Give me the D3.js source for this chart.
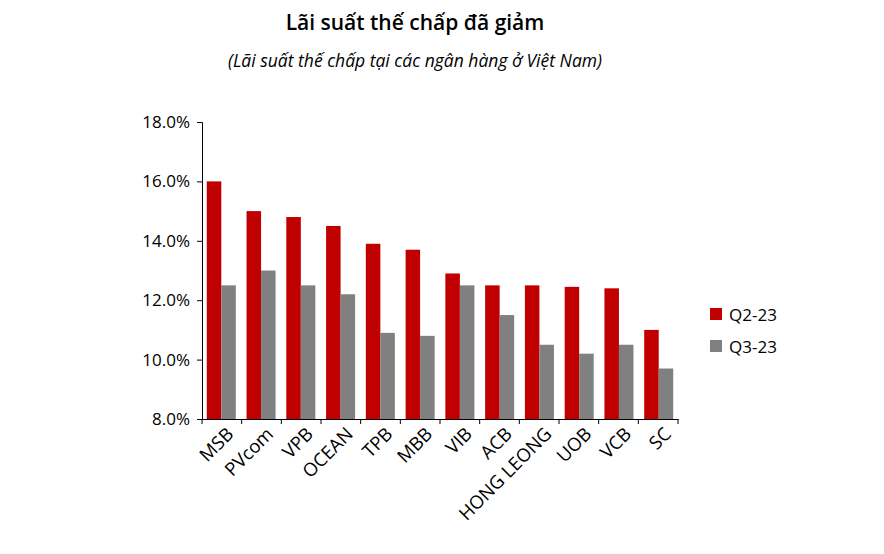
<!DOCTYPE html>
<html><head><meta charset="utf-8">
<script src="https://cdn.jsdelivr.net/npm/d3@7"></script>
<style>body{margin:0;background:#fff}text{font-family:"Open Sans",sans-serif}</style>
</head><body><svg id="c" width="884" height="554"></svg>
<script>
const categories=["MSB","PVcom","VPB","OCEAN","TPB","MBB","VIB","ACB","HONG LEONG","UOB","VCB","SC"];
const q2=[16.0,15.0,14.8,14.5,13.9,13.7,12.9,12.5,12.5,12.45,12.4,11.0];
const q3=[12.5,13.0,12.5,12.2,10.9,10.8,12.5,11.5,10.5,10.2,10.5,9.7];
const seriesNames=["Q2-23","Q3-23"];
const colors=["#c00000","#808080"];
const yTicks=[8,10,12,14,16,18];
const svg=d3.select("#c");
const L=202,R=678,T=122,B=419;
const x=d3.scaleBand().domain(categories).range([L,R]).paddingInner(0.27).paddingOuter(0.12);
const y=d3.scaleLinear().domain([8,18]).range([B,T]);
const sub=d3.scaleBand().domain([0,1]).range([0,x.bandwidth()]);
[q2,q3].forEach((s,i)=>{
 svg.append("g").selectAll("rect").data(s).join("rect")
  .attr("x",(d,j)=>x(categories[j])+sub(i)).attr("width",sub.bandwidth())
  .attr("y",d=>y(d)).attr("height",d=>B-y(d)).attr("fill",colors[i]);
});
const ya=svg.append("g").attr("transform",`translate(${L},0)`)
 .call(d3.axisLeft(y).tickValues(yTicks).tickFormat(d=>d.toFixed(1)+"%").tickSizeOuter(0).tickSize(5));
ya.selectAll("text").attr("font-size",17).attr("fill","#000").attr("dx",-4);
const xa=svg.append("g").attr("transform",`translate(0,${B})`)
 .call(d3.axisBottom(x).tickSize(0).tickSizeOuter(0));
xa.selectAll("text").attr("font-size",18.5).attr("fill","#000")
 .attr("text-anchor","end").attr("transform","rotate(-45)").attr("dx",-2).attr("dy",18);
svg.selectAll(".domain,.tick line").attr("stroke","#000");
svg.append("g").selectAll("line").data(d3.range(categories.length+1)).join("line")
 .attr("x1",i=>L+(R-L)*i/categories.length).attr("x2",i=>L+(R-L)*i/categories.length)
 .attr("y1",B).attr("y2",B+5).attr("stroke","#000");
const lg=svg.append("g");
seriesNames.forEach((n,i)=>{
 lg.append("rect").attr("x",710).attr("y",308+i*32).attr("width",12).attr("height",12).attr("fill",colors[i]);
 lg.append("text").attr("x",729).attr("y",321+i*32).attr("font-size",17).text(n);
});
svg.append("text").attr("x",415).attr("y",30).attr("text-anchor","middle").attr("font-size",21).attr("font-weight",600).text("Lãi suất thế chấp đã giảm");
svg.append("text").attr("x",415).attr("y",67).attr("text-anchor","middle").attr("font-size",17.5).attr("font-style","italic").text("(Lãi suất thế chấp tại các ngân hàng ở Việt Nam)");
</script></body></html>
